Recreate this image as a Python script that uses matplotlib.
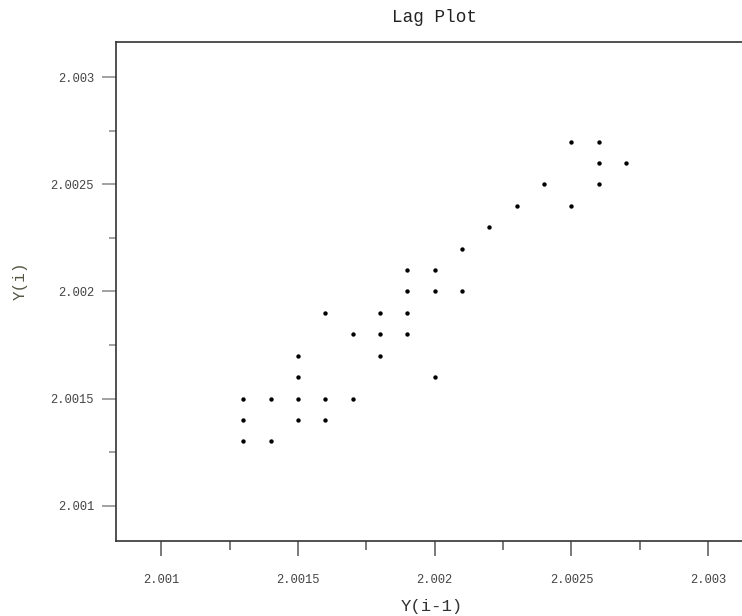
import matplotlib
matplotlib.use("Agg")
import matplotlib.pyplot as plt
from matplotlib.ticker import FixedLocator

# Lag plot data: Y(i-1) vs Y(i)
y_prev = [2.0013, 2.0013, 2.0013, 2.0014, 2.0014,
          2.0015, 2.0015, 2.0015, 2.0015,
          2.0016, 2.0016, 2.0016,
          2.0017, 2.0017,
          2.0018, 2.0018, 2.0018,
          2.0019, 2.0019, 2.0019, 2.0019,
          2.0020, 2.0020, 2.0020,
          2.0021, 2.0021,
          2.0022, 2.0023, 2.0024,
          2.0025, 2.0025,
          2.0026, 2.0026, 2.0026,
          2.0027]
y_curr = [2.0015, 2.0014, 2.0013, 2.0015, 2.0013,
          2.0017, 2.0016, 2.0015, 2.0014,
          2.0019, 2.0015, 2.0014,
          2.0018, 2.0015,
          2.0019, 2.0018, 2.0017,
          2.0021, 2.0020, 2.0019, 2.0018,
          2.0021, 2.0020, 2.0016,
          2.0022, 2.0020,
          2.0023, 2.0024, 2.0025,
          2.0027, 2.0024,
          2.0027, 2.0026, 2.0025,
          2.0026]

major_ticks = [2.001, 2.0015, 2.002, 2.0025, 2.003]
minor_ticks = [2.00125, 2.00175, 2.00225, 2.00275]
tick_labels = ["2.001", "2.0015", "2.002", "2.0025", "2.003"]

W, H = 742, 616
fig = plt.figure(figsize=(W / 100, H / 100), dpi=100)
left, right, top, bottom = 116.4, 742, 41.7, 541
ax = fig.add_axes([left / W, 1 - bottom / H, (right - left) / W, (bottom - top) / H])

mono = ["Liberation Mono", "DejaVu Sans Mono"]

ax.scatter(y_prev, y_curr, s=10, color="black", linewidths=0, zorder=3)

ax.set_xlim(2.000835, 2.003124)
ax.set_ylim(2.000835, 2.003166)

ax.xaxis.set_major_locator(FixedLocator(major_ticks))
ax.yaxis.set_major_locator(FixedLocator(major_ticks))
ax.xaxis.set_minor_locator(FixedLocator(minor_ticks))
ax.yaxis.set_minor_locator(FixedLocator(minor_ticks))
ax.set_xticklabels(tick_labels)
ax.set_yticklabels(tick_labels)

for lab in ax.get_xticklabels() + ax.get_yticklabels():
    lab.set_family(mono)
    lab.set_fontsize(8.7)
    lab.set_color("#444444")

ax.tick_params(axis="x", which="major", length=10.8, width=1.1, color="#555555", pad=13)
ax.tick_params(axis="x", which="minor", length=6.3, width=1.1, color="#555555")
ax.tick_params(axis="y", which="major", length=10, width=1.1, color="#888888", pad=6)
ax.tick_params(axis="y", which="minor", length=5, width=1.1, color="#888888")

for side in ["left", "bottom", "top"]:
    ax.spines[side].set_color("#333333")
    ax.spines[side].set_linewidth(1.2)
ax.spines["right"].set_visible(False)

fig.text(434 / W, 1 - 18 / H, "Lag Plot", family=mono, fontsize=12.7,
         ha="center", va="center", color="#222222")
fig.text(432 / W, 1 - 606 / H, "Y(i-1)", family=mono, fontsize=12.4,
         ha="center", va="center", color="#333333")
fig.text(20 / W, 1 - 281 / H, "Y(i)", family=mono, fontsize=11.5,
         ha="center", va="center", rotation=90, color="#555544")

fig.savefig("out.png", dpi=100, facecolor="white")
